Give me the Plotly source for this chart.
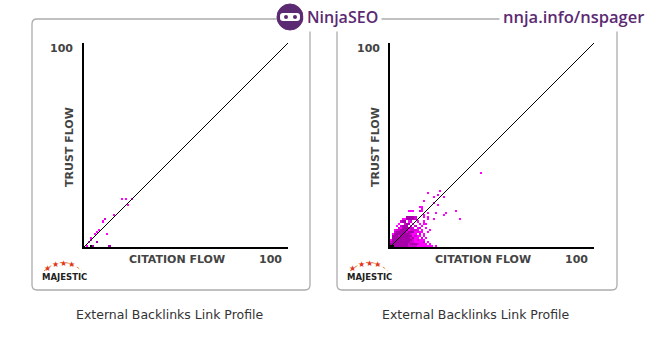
import plotly.graph_objects as go

W, H = 660, 342

# ---------------- data (cell indices: Citation Flow, Trust Flow) ----------------
# left chart: sparse cells; level 1=bright magenta, 2=medium, 3=dark purple, 4=black
left_cf = [18, 20, 23, 21, 14, 10, 9, 7, 6, 5, 11, 3, 3, 2, 6, 1, 3, 4, 12]
left_tf = [23, 23, 23, 20, 15, 13, 12, 8, 7, 6, 6, 4, 3, 2, 2, 0, 0, 0, 0]
left_level = [1, 1, 1, 1, 1, 2, 1, 1, 1, 1, 1, 1, 1, 1, 3, 1, 4, 3, 3]

# right chart: dense rows (index = Trust Flow, char position = Citation Flow)
right_rows = [
    "kkdddddddppppmmmmmmmm.m",
    "dddddddddpdddpmmmm.m",
    "pdddddddddppmmmmp.m",
    "mddddddddddpmpmmm",
    ".dddddddddpdmm.p.m",
    ".dddpddddddmpmm.m",
    ".mddddddddpmm.p.m",
    "..pdddddpdddmpmm..m",
    "..mppddddmpppm.m...m",
    "....pmddddpp.mp..m",
    "...m.pddd.m.p..m",
    "....m..pdd.m..m.mm",
    ".....pdd.mp..m..m",
    "......mmddddp.....m..m............m",
    "........ddddp...m.m",
]
# right chart: scattered cells above the dense block
right_cf = [16, 26, 18, 22, 27, 9, 10, 11, 14, 15, 32, 15, 14, 15, 23, 21, 16, 21, 26, 23, 18, 24, 44]
right_tf = [15, 15, 16, 16, 16, 17, 17, 17, 17, 17, 17, 18, 19, 19, 20, 21, 22, 24, 24, 25, 26, 27, 36]
right_level = [1, 1, 1, 1, 1, 1, 1, 1, 2, 1, 1, 1, 1, 1, 1, 1, 1, 1, 1, 1, 1, 1, 1]

level_code = {"m": 1, "p": 2, "d": 3, "k": 4}
level_colors = ["#ff00ff", "#d400d4", "#a800a8", "#000000"]

axis_max = 100
diag = [0, 100]
axis_label_x = "CITATION FLOW"
axis_label_y = "TRUST FLOW"
max_label = "100"
chart_title = "External Backlinks Link Profile"


# ---------------- helpers ----------------
def px(x):
    return x / W


def py(y):
    return 1 - y / H


def build_grid(cf, tf, lv):
    z = [[None] * axis_max for _ in range(axis_max)]
    for c, t, l in zip(cf, tf, lv):
        z[t][c] = l
    return z


r_cf, r_tf, r_lv = list(right_cf), list(right_tf), list(right_level)
for t, row in enumerate(right_rows):
    for c, ch in enumerate(row):
        if ch in level_code:
            r_cf.append(c)
            r_tf.append(t)
            r_lv.append(level_code[ch])

n = len(level_colors)
colorscale = []
for i, col in enumerate(level_colors):
    colorscale.append([i / n, col])
    colorscale.append([(i + 1) / n, col])

fig = go.Figure()
for k, (cf, tf, lv) in enumerate([(left_cf, left_tf, left_level), (r_cf, r_tf, r_lv)]):
    xa = "x" if k == 0 else "x2"
    ya = "y" if k == 0 else "y2"
    fig.add_trace(go.Heatmap(
        z=build_grid(cf, tf, lv), x0=0.5, dx=1, y0=0.5, dy=1,
        colorscale=colorscale, zmin=0.5, zmax=n + 0.5, showscale=False,
        zsmooth=False, hoverinfo="skip", xaxis=xa, yaxis=ya))
    fig.add_trace(go.Scatter(
        x=diag, y=diag, mode="lines", line=dict(color="black", width=1),
        hoverinfo="skip", showlegend=False, xaxis=xa, yaxis=ya))

ax_common = dict(range=[0, axis_max], showgrid=False, zeroline=False,
                 showticklabels=False, ticks="", showline=True,
                 linecolor="black", linewidth=2, fixedrange=True)
ydom = [py(247), py(43)]
fig.update_layout(
    width=W, height=H, margin=dict(l=0, r=0, t=0, b=0),
    paper_bgcolor="white", plot_bgcolor="white", showlegend=False,
    xaxis=dict(domain=[px(84), px(288)], anchor="y", **ax_common),
    yaxis=dict(domain=ydom, anchor="x", **ax_common),
    xaxis2=dict(domain=[px(390), px(594)], anchor="y2", **ax_common),
    yaxis2=dict(domain=ydom, anchor="x2", **ax_common),
)


def rrect(x0, y0, x1, y1, r):
    P = lambda x, y: f"{px(x):.5f},{py(y):.5f}"
    return (f"M {P(x0 + r, y0)} L {P(x1 - r, y0)} Q {P(x1, y0)} {P(x1, y0 + r)} "
            f"L {P(x1, y1 - r)} Q {P(x1, y1)} {P(x1 - r, y1)} L {P(x0 + r, y1)} "
            f"Q {P(x0, y1)} {P(x0, y1 - r)} L {P(x0, y0 + r)} Q {P(x0, y0)} {P(x0 + r, y0)} Z")


shapes = []
for bx0, bx1 in [(32, 310), (337, 617)]:
    shapes.append(dict(type="path", xref="paper", yref="paper",
                       path=rrect(bx0, 19, bx1, 290, 5),
                       line=dict(color="#acacac", width=1.3)))

# ninja logo
purple = "#5c2a72"
shapes.append(dict(type="circle", xref="paper", yref="paper",
                   x0=px(277), x1=px(303), y0=py(30), y1=py(4),
                   fillcolor=purple, line=dict(color=purple, width=1)))
shapes.append(dict(type="path", xref="paper", yref="paper",
                   path=rrect(280, 13, 300, 21, 3), fillcolor="white",
                   line=dict(color="white", width=0)))
for ex in (284, 293):
    shapes.append(dict(type="circle", xref="paper", yref="paper",
                       x0=px(ex), x1=px(ex + 4), y0=py(19), y1=py(15),
                       fillcolor=purple, line=dict(width=0)))

annotations = []


def text(x, y, s, size, color="#444", family="DejaVu Sans", angle=0, bg=None,
         xanchor="center", weight=None):
    f = dict(family=family, size=size, color=color)
    if weight:
        f["weight"] = weight
    d = dict(x=px(x), y=py(y), xref="paper", yref="paper", text=s, showarrow=False,
             xanchor=xanchor, yanchor="middle", textangle=angle, font=f)
    if bg:
        d.update(bgcolor=bg, borderpad=3)
    annotations.append(d)


# header
text(342, 17, "NinjaSEO", 16, color=purple, family="Open Sans", bg="white", weight=600)
text(573, 17, "nnja.info/nspager", 16.5, color=purple, family="Open Sans", bg="white", weight=600)

for off, cx in [(0, 170), (306, 476)]:
    text(62 + off, 48, f"<b>{max_label}</b>", 11)
    text(69 + off, 147, f"<b>{axis_label_y}</b>", 11, angle=-90)
    text(177 + off, 259, f"<b>{axis_label_x}</b>", 11)
    text(270 + off, 259, f"<b>{max_label}</b>", 11)
    text(cx, 314, chart_title, 12.5, color="#333")
    # majestic logo
    text(64 + off, 277, "<b>MAJESTIC</b>", 8.5, color="#222")
    shapes.append(dict(type="path", xref="paper", yref="paper",
                       path=f"M {px(44 + off)},{py(271)} Q {px(63 + off)},{py(254)} {px(82 + off)},{py(271)}",
                       line=dict(color="#f08a30", width=1, dash="dot")))
    for sx, sy in [(47, 268), (55, 264.5), (63, 263), (71, 264.5)]:
        text(sx + off, sy, "★", 8, color="#e0361a")

fig.update_layout(shapes=shapes, annotations=annotations)
fig.write_html("out.html")
